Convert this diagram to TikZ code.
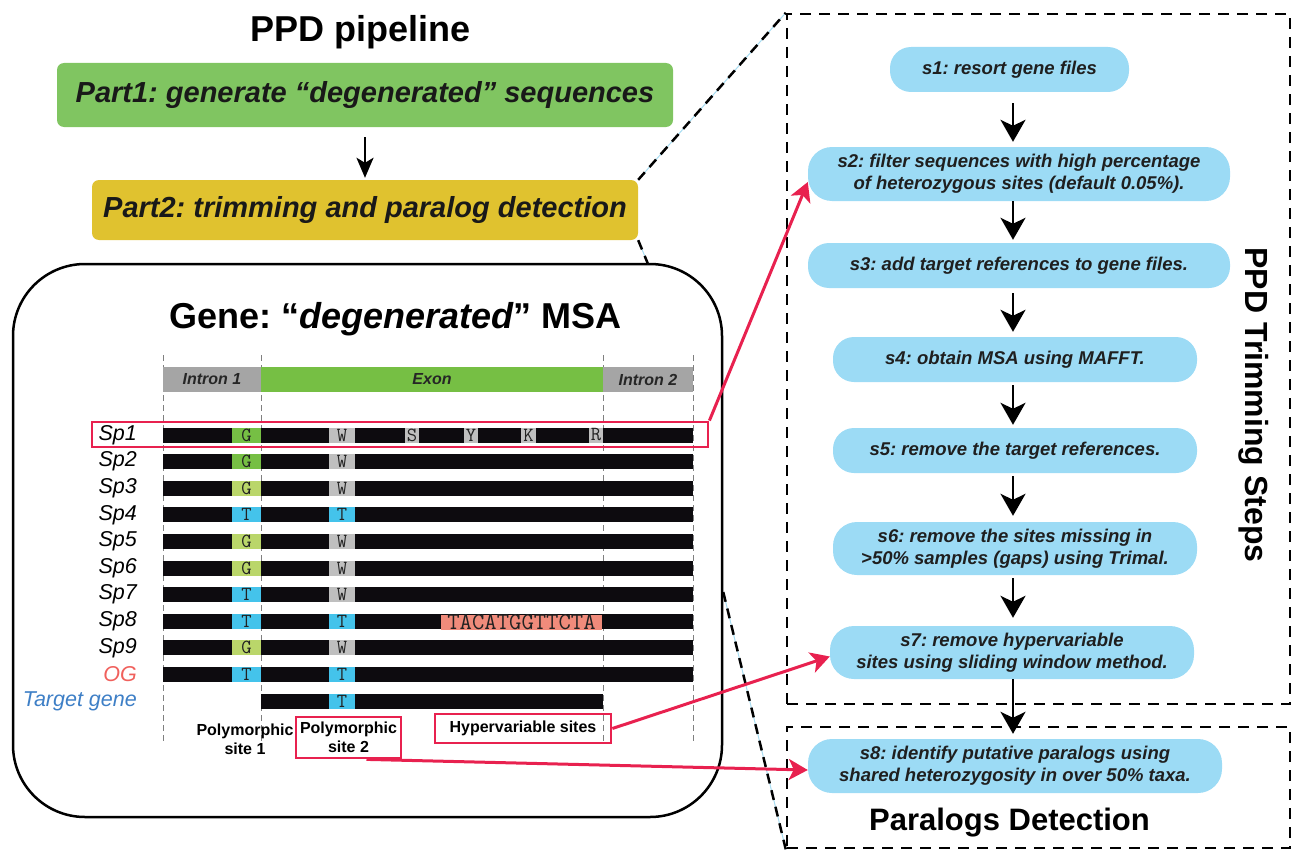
\documentclass[tikz,border=0pt]{standalone}
\usepackage{fontspec}
\setmainfont{Liberation Sans}
\usetikzlibrary{arrows.meta,calc}
\definecolor{partgreen}{HTML}{80C561}
\definecolor{partyellow}{HTML}{E0C22F}
\definecolor{stepblue}{HTML}{9CDBF5}
\definecolor{introngray}{HTML}{A5A5A5}
\definecolor{exongreen}{HTML}{76BF44}
\definecolor{gdark}{HTML}{76BF44}
\definecolor{glight}{HTML}{BAD66A}
\definecolor{tcyan}{HTML}{44C3EB}
\definecolor{wgray}{HTML}{BFBFBF}
\definecolor{salmon}{HTML}{F08B7B}
\definecolor{pinkred}{HTML}{E8214F}
\definecolor{ogred}{HTML}{F0605C}
\definecolor{tgblue}{HTML}{3E7FC6}
\definecolor{barblack}{HTML}{0D0B0F}
\definecolor{lineblue}{HTML}{A8DDF2}
\definecolor{lettercol}{HTML}{222222}
\newcommand\fsz[2]{\fontsize{#1}{#2}\selectfont}
\begin{document}
\frenchspacing
\begin{tikzpicture}[x=1pt,y=-1pt,
  partbox/.style={rounded corners=7pt, inner sep=0pt, font=\fsz{29}{34}\bfseries\itshape, text=black!90},
  stepbox/.style={fill=stepblue, rounded corners=21pt, inner sep=0pt, align=center, font=\fsz{18.5}{22}\bfseries\itshape, text=black!88},
  framebox/.style={draw, dash pattern=on 11pt off 8pt, line width=2.5pt, inner sep=0pt},
  diag/.style={draw, dash pattern=on 10pt off 7pt, line width=2.5pt},
  bluethin/.style={draw=lineblue, line width=1pt},
  blackarrow/.style={draw, line width=2.5pt, -{Stealth[length=22pt,width=25pt,inset=6pt]}},
  pinkarrow/.style={draw=pinkred, line width=3pt, -{Stealth[length=19pt,width=21pt,inset=5pt]}, color=pinkred},
  pinkbox/.style={draw=pinkred, line width=2.8pt, inner sep=0pt},
  rowlab/.style={anchor=east, font=\fsz{21.5}{24}\itshape, inner sep=0pt},
  hdr/.style={font=\fsz{16}{18}\bfseries\itshape, text=black!85, inner sep=0pt},
  lettr/.style={font=\ttfamily\fsz{20}{20}, text=lettercol, inner sep=0pt},
  site/.style={font=\fsz{16}{20}\bfseries, align=center, inner sep=0pt}
]
\useasboundingbox (0,0) rectangle (1291,851);

% ---------- left: pipeline ----------
\node[anchor=base, font=\fsz{36}{40}\bfseries] (title) at (360.5,42) {PPD pipeline};
\node[partbox, fill=partgreen, minimum width=616pt, minimum height=64pt] (part1) at (365,95) {Part1: generate “degenerated” sequences};
\node[partbox, fill=partyellow, minimum width=546pt, minimum height=60pt] (part2) at (365,210) {Part2: trimming and paralog detection};
\draw[line width=2.5pt, -{Stealth[length=20pt,width=17pt,inset=5pt]}] ([yshift=-10pt]part1.south -| 365,0) -- ([yshift=2pt]part2.north -| 365,0);

% ---------- gene box ----------
\node[draw, line width=2.5pt, rounded corners=72pt, minimum width=709pt, minimum height=553pt, inner sep=0pt] (gene) at (367.5,540.5) {};
\node[anchor=base, font=\fsz{36}{40}\bfseries] (genetitle) at (395.5,328) {Gene: “\textit{degenerated}” MSA};

% dashed guide lines (MSA)
\foreach \xx in {163,261,603,693}
  \draw[gray, line width=0.8pt, dash pattern=on 6pt off 4pt] (\xx,355) -- (\xx,742);

% header bars
\fill[introngray] (163,367) rectangle (261,392);
\fill[exongreen] (261,367) rectangle (603,392);
\fill[introngray] (603,367) rectangle (693,392);
\node[hdr] (h1) at (212,379.5) {Intron 1};
\node[hdr] (h2) at (432,379.5) {Exon};
\node[hdr] (h3) at (648,379.5) {Intron 2};

% rows
\foreach \i/\lab/\ca/\la/\cb/\lb in {1/Sp1/gdark/G/wgray/W, 2/Sp2/gdark/G/wgray/W, 3/Sp3/glight/G/wgray/W, 4/Sp4/tcyan/T/tcyan/T, 5/Sp5/glight/G/wgray/W, 6/Sp6/glight/G/wgray/W, 7/Sp7/tcyan/T/wgray/W, 8/Sp8/tcyan/T/tcyan/T, 9/Sp9/glight/G/wgray/W, 10/OG/tcyan/T/tcyan/T}{
  \pgfmathsetmacro\yy{435+26.6*(\i-1)}
  \fill[barblack] (163,\yy-7.5) rectangle (693,\yy+7.5);
  \fill[\ca] (232,\yy-7.5) rectangle (261,\yy+7.5);
  \node[lettr] (a\i) at (246.5,\yy) {\la};
  \fill[\cb] (329,\yy-7.5) rectangle (355,\yy+7.5);
  \node[lettr] (b\i) at (342,\yy) {\lb};
}
\foreach \i/\lab in {1/Sp1,2/Sp2,3/Sp3,4/Sp4,5/Sp5,6/Sp6,7/Sp7,8/Sp8,9/Sp9}{
  \pgfmathsetmacro\yy{435+26.6*(\i-1)}
  \node[rowlab] (lab\i) at (137,\yy) {\lab};
}
\node[rowlab, text=ogred] (labog) at (137,674.4) {OG};
% target gene row
\fill[barblack] (261,693.5) rectangle (603,708.5);
\fill[tcyan] (329,693.5) rectangle (355,708.5);
\node[lettr] (bt) at (342,701) {T};
\node[rowlab, text=tgblue] (labtg) at (137,701) {Target gene};

% Sp1 extra sites
\foreach \xa/\xb/\ch in {405/419/S, 464/478/Y, 521/536/K, 589/603/R}{
  \fill[wgray] (\xa,427.5) rectangle (\xb,442.5);
  \node[lettr] (e\ch) at ({(\xa+\xb)/2},435) {\ch};
}
% Sp8 hypervariable
\fill[salmon] (441,614.7) rectangle (602,629.7);
\node[lettr, font=\ttfamily\fsz{24}{24}] (hv) at (521.5,622.2) {TACATGGTTCTA};

% site labels
\node[site] (ps1) at (245,739) {Polymorphic\\[-1pt]site 1};
\node[pinkbox, site, minimum width=105pt, minimum height=41pt] (poly2) at (348.5,737.5) {Polymorphic\\[-1pt]site 2};
\node[pinkbox, site, minimum width=176pt, minimum height=29pt] (hyp) at (523,728.5) {Hypervariable sites};
\node[pinkbox, minimum width=616pt, minimum height=25pt] (sp1box) at (400,434.5) {};

% ---------- right panel ----------
\node[framebox, minimum width=503pt, minimum height=690pt] (trim) at (1038.5,359) {};
\node[framebox, minimum width=503pt, minimum height=121pt] (para) at (1038.5,787.5) {};

\node[stepbox, minimum width=239pt, minimum height=45pt] (s1) at (1009.5,69.5) {s1: resort gene files};
\node[stepbox, minimum width=422pt, minimum height=54pt, rounded corners=24pt] (s2) at (1019,174) {s2: filter sequences with high percentage\\of heterozygous sites (default 0.05\%).};
\node[stepbox, minimum width=422pt, minimum height=45pt] (s3) at (1019,265.5) {s3: add target references to gene files.};
\node[stepbox, minimum width=364pt, minimum height=45pt] (s4) at (1015,359.5) {s4: obtain MSA using MAFFT.};
\node[stepbox, minimum width=364pt, minimum height=45pt] (s5) at (1015,450.5) {s5: remove the target references.};
\node[stepbox, minimum width=364pt, minimum height=53pt, rounded corners=24pt] (s6) at (1015,548.5) {s6: remove the sites missing in\\>50\% samples (gaps) using Trimal.};
\node[stepbox, minimum width=364pt, minimum height=53pt, rounded corners=24pt] (s7) at (1012,652.5) {s7: remove hypervariable\\sites using sliding window method.};
\node[stepbox, minimum width=414pt, minimum height=54pt, rounded corners=24pt] (s8) at (1015,766) {s8: identify putative paralogs using\\shared heterozygosity in over 50\% taxa.};

\node[rotate=-90, font=\fsz{32}{36}\bfseries] (trimlab) at (1254,405) {PPD Trimming Steps};
\node[anchor=base, font=\fsz{31}{34}\bfseries] (paralab) at (1009.5,830) {Paralogs Detection};

\coordinate (ax) at (1013,0);
\draw[blackarrow, shorten <=11pt, shorten >=5pt] (s1.south -| ax) -- (s2.north -| ax);
\draw[blackarrow, shorten >=3pt] (s2.south -| ax) -- (s3.north -| ax);
\draw[blackarrow, shorten <=5pt, shorten >=5pt] (s3.south -| ax) -- (s4.north -| ax);
\draw[blackarrow, shorten <=3pt, shorten >=3pt] (s4.south -| ax) -- (s5.north -| ax);
\draw[blackarrow, shorten <=3pt, shorten >=6pt] (s5.south -| ax) -- (s6.north -| ax);
\draw[blackarrow, shorten <=3pt, shorten >=8pt] (s6.south -| ax) -- (s7.north -| ax);
\draw[blackarrow, shorten >=5pt] (s7.south -| ax) -- (s8.north -| ax);

% ---------- zoom guide lines ----------
\coordinate (gtop) at (648,264);
\coordinate (gright) at ([yshift=-51.5pt]gene.east);
\draw[bluethin] (part2.north east) -- (trim.north west);
\draw[diag] (part2.north east) -- (trim.north west);
\draw[bluethin] (part2.south east) -- (gtop);
\draw[diag] (part2.south east) -- (gtop);
\draw[bluethin] (gright) -- (para.south west);
\draw[diag] (gright) -- (para.south west);

% ---------- pink connectors ----------
\draw[pinkarrow] (sp1box.north east) -- ([yshift=-8pt]s2.west);
\draw[pinkarrow] (hyp.east) -- ([yshift=-4pt]s7.west);
\draw[pinkarrow] ([xshift=18pt]poly2.south) -- ([yshift=-4pt]s8.west);
\end{tikzpicture}
\end{document}
